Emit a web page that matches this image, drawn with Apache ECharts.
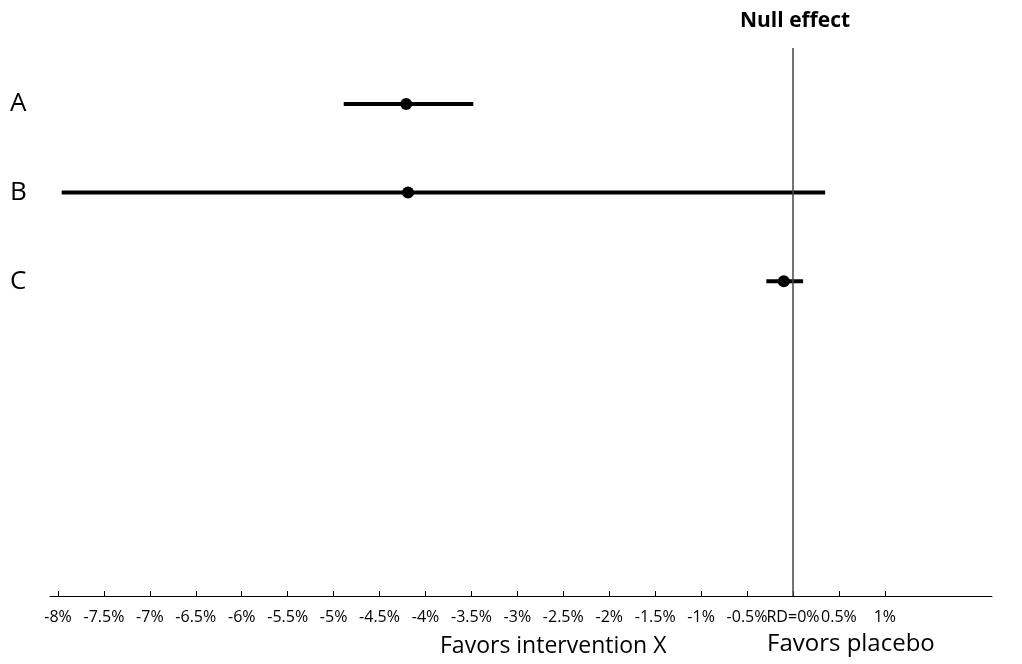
<!DOCTYPE html>
<html>
<head>
<meta charset="utf-8">
<script src="https://cdn.jsdelivr.net/npm/echarts@6/dist/echarts.min.js"></script>
<style>
  html, body { margin: 0; padding: 0; background: #fff; }
  #chart { width: 1022px; height: 664px; }
</style>
</head>
<body>
<div id="chart"></div>
<script>
// Study rows, top to bottom
const rows = ['A', 'B', 'C'];
// Risk difference (%) point estimates and confidence limits
const estimates = [-4.21, -4.19, -0.10];
const lower = [-4.89, -7.96, -0.29];
const upper = [-3.48, 0.35, 0.11];
// Axis ticks and their labels
const tickValues = [-8, -7.5, -7, -6.5, -6, -5.5, -5, -4.5, -4, -3.5, -3, -2.5, -2, -1.5, -1, -0.5, 0, 0.5, 1];
const tickLabels = ['-8%', '-7.5%', '-7%', '-6.5%', '-6%', '-5.5%', '-5%', '-4.5%', '-4%', '-3.5%', '-3%',
  '-2.5%', '-2%', '-1.5%', '-1%', '-0.5%', 'RD=0%', '0.5%', '1%'];

const FONT = '"Open Sans", "Noto Sans", sans-serif';

const ciData = rows.map((r, i) => [i + 1, lower[i], upper[i]]);
const pointData = rows.map((r, i) => [estimates[i], i + 1]);

const chart = echarts.init(document.getElementById('chart'), null, { renderer: 'canvas' });

chart.setOption({
  backgroundColor: '#ffffff',
  animation: false,
  grid: { left: 50, right: 30, top: 48, bottom: 68, containLabel: false },
  xAxis: {
    type: 'value',
    min: -8.087,
    max: 2.166,
    splitLine: { show: false },
    axisLine: { show: true, lineStyle: { color: '#000', width: 1 } },
    axisTick: { show: true, inside: true, length: 5, customValues: tickValues, lineStyle: { color: '#000' } },
    axisLabel: {
      customValues: tickValues,
      margin: 13,
      fontFamily: FONT,
      fontSize: 16,
      color: '#000',
      formatter: function (v) {
        const k = tickValues.findIndex(t => Math.abs(t - v) < 1e-9);
        return k >= 0 ? tickLabels[k] : '';
      }
    }
  },
  yAxis: {
    type: 'value',
    inverse: true,
    min: 0.367,
    max: 6.556,
    splitLine: { show: false },
    axisLine: { show: false },
    axisTick: { show: false },
    axisLabel: {
      customValues: rows.map((r, i) => i + 1),
      align: 'left',
      margin: 40,
      fontFamily: FONT,
      fontSize: 26,
      color: '#000',
      formatter: function (v) { return rows[Math.round(v) - 1] || ''; }
    }
  },
  series: [
    {
      // confidence interval bars
      type: 'custom',
      data: ciData,
      encode: { x: [1, 2], y: 0 },
      renderItem: function (params, api) {
        const y = api.value(0);
        const p1 = api.coord([api.value(1), y]);
        const p2 = api.coord([api.value(2), y]);
        return {
          type: 'line',
          shape: { x1: p1[0], y1: p1[1], x2: p2[0], y2: p2[1] },
          style: { stroke: '#000', lineWidth: 4 }
        };
      },
      z: 2
    },
    {
      // point estimates
      type: 'scatter',
      data: pointData,
      symbol: 'circle',
      symbolSize: 12,
      itemStyle: { color: '#000', opacity: 1 },
      z: 3,
      markLine: {
        silent: true,
        symbol: 'none',
        label: { show: false },
        lineStyle: { color: '#444', width: 1.5, type: 'solid', opacity: 1 },
        data: [{ xAxis: 0 }]
      }
    }
  ],
  graphic: [
    {
      type: 'text', left: 740, top: 11,
      style: { text: 'Null effect', font: 'bold 21px ' + FONT, fill: '#000' }
    },
    {
      type: 'text', left: 440, top: 635,
      style: { text: 'Favors intervention X', font: '23px ' + FONT, fill: '#000' }
    },
    {
      type: 'text', left: 767, top: 632,
      style: { text: 'Favors placebo', font: '24px ' + FONT, fill: '#000' }
    }
  ]
});
</script>
</body>
</html>
